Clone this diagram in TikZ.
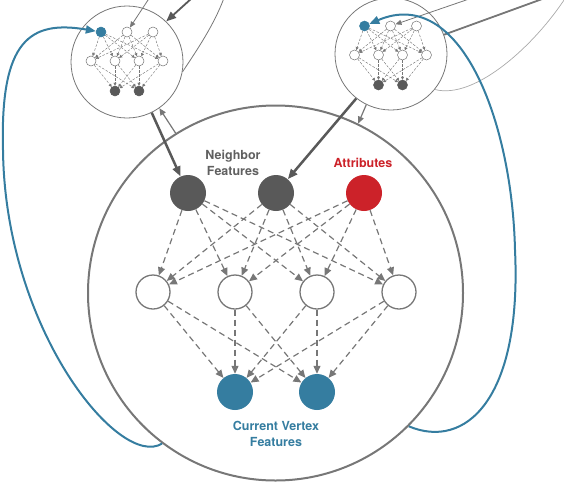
\documentclass[tikz,border=0pt]{standalone}
\usepackage{fontspec}
\setmainfont{TeX Gyre Heros}
\usetikzlibrary{arrows.meta}

\definecolor{nodegray}{HTML}{595959}
\definecolor{linegray}{HTML}{777777}
\definecolor{textgray}{HTML}{606060}
\definecolor{loopgray}{HTML}{AAAAAA}
\definecolor{attrred}{HTML}{CC2229}
\definecolor{vertblue}{HTML}{357DA0}

\begin{document}
\begin{tikzpicture}[
  x=1pt, y=-1pt,
  neuron/.style = {circle, minimum size=36pt, inner sep=0pt},
  hidden/.style = {neuron, draw=linegray, line width=1.3pt, fill=white, minimum size=34pt},
  nbr/.style = {neuron, fill=nodegray},
  attr/.style = {neuron, fill=attrred},
  cur/.style = {neuron, fill=vertblue},
  mini/.style = {circle, minimum size=10pt, inner sep=0pt, draw=linegray, line width=0.5pt, fill=white},
  bubble/.style = {circle, draw=linegray, line width=0.8pt, minimum size=112pt, inner sep=0pt},
  txt/.style = {font=\fontsize{12.5}{16}\selectfont\bfseries, align=center},
  wire/.style = {-{Triangle[length=8pt, width=7pt]}, dash pattern=on 6pt off 4pt, line width=1.2pt, draw=linegray},
  miniwire/.style = {-{Triangle[length=3pt, width=3pt]}, dash pattern=on 2.5pt off 1.5pt, line width=0.45pt, draw=linegray},
  feed/.style = {-{Triangle[length=10pt, width=8pt]}, line width=2.5pt, draw=nodegray},
  link/.style = {-{Triangle[length=7pt, width=6pt]}, line width=1.2pt, draw=linegray},
  finelink/.style = {-{Triangle[length=6pt, width=5pt]}, line width=0.8pt, draw=linegray},
  recur/.style = {-{Triangle[length=10pt, width=8pt]}, line width=2pt, draw=vertblue}
]
\useasboundingbox (0,0) rectangle (564,482);

% the three bubbles
\node[circle, draw=linegray, line width=2pt, minimum size=375pt, inner sep=0pt] (big) at (275.5,293) {};
\node[bubble] (lnet) at (127,62) {};
\node[bubble] (rnet) at (391,54) {};

% main network
\node[nbr] (nbr1) at (188,193) {};
\node[nbr] (nbr2) at (276,193) {};
\node[attr] (attr) at (364,193) {};
\node[hidden] (hid1) at (153,292) {};
\node[hidden] (hid2) at (235,292) {};
\node[hidden] (hid3) at (317,292) {};
\node[hidden] (hid4) at (399,292) {};
\node[cur] (cur1) at (235,392) {};
\node[cur] (cur2) at (317,392) {};

\foreach \a in {nbr1,nbr2,attr} \foreach \j in {1,...,4} \draw[wire] (\a) -- (hid\j);
\foreach \j in {1,...,4} \foreach \k in {1,2} \draw[wire] (hid\j) -- (cur\k);

\node[txt, text=textgray] (nbrlabel) at (233,163) {Neighbor\\Features};
\node[txt, text=attrred] (attrlabel) at (363,163) {Attributes};
\node[txt, text=vertblue] (curlabel) at (276,434) {Current Vertex\\Features};

% small networks inside the two bubbles
\foreach \n/\cx/\cy in {L/127/32, R/390.5/26} {
  \node[mini, fill=vertblue, draw=vertblue] (\n-t1) at ({\cx-26},\cy) {};
  \node[mini] (\n-t2) at (\cx,\cy) {};
  \node[mini] (\n-t3) at ({\cx+26},\cy) {};
  \foreach \j/\dx in {1/-36,2/-12,3/12,4/36}
    \node[mini] (\n-h\j) at ({\cx+\dx},{\cy+29}) {};
  \node[mini, fill=nodegray, draw=nodegray] (\n-o1) at ({\cx-12},{\cy+59}) {};
  \node[mini, fill=nodegray, draw=nodegray] (\n-o2) at ({\cx+12},{\cy+59}) {};
  \foreach \i in {1,2,3} \foreach \j in {1,...,4} \draw[miniwire] (\n-t\i) -- (\n-h\j);
  \foreach \j in {1,...,4} \foreach \k in {1,2} \draw[miniwire] (\n-h\j) -- (\n-o\k);
}

% free ends above the picture
\coordinate (Lthin) at (150,-3);
\coordinate (Lthick) at (192,-2);
\coordinate (Lloop) at (224,-2);
\coordinate (Rthin) at (472,-2);
\coordinate (Rthick) at (545,-2);
\coordinate (Rloop) at (566,-3);

\draw[feed] (lnet.-64) -- (nbr1);
\draw[link] (big.122.5) -- (lnet.-55);
\draw[feed] (rnet.-128) -- (nbr2);
\draw[link] (rnet.-116) -- (big.64);

\draw[finelink] (Lthin) -- (L-t2);
\draw[feed, line width=1.8pt] (Lthick) -- (lnet.46);
\draw[line width=0.8pt, draw=linegray] (Lloop) .. controls (214,25) and (197,50) .. (lnet.-10);
\draw[finelink] (Rthin) -- (R-t2);
\draw[line width=1.8pt, draw=linegray] (rnet.20) -- (Rthick);
\draw[line width=0.7pt, draw=loopgray] (rnet.-39) .. controls (475,100) and (535,45) .. (Rloop);

\draw[recur] (big.-127) .. controls (120,470) and (5,330) .. (3,150) .. controls (0,40) and (30,20) .. (L-t1);
\draw[recur] (big.-45) .. controls (465,450) and (522,400) .. (515,250) .. controls (512,120) and (460,-15) .. (R-t1);
\end{tikzpicture}
\end{document}
